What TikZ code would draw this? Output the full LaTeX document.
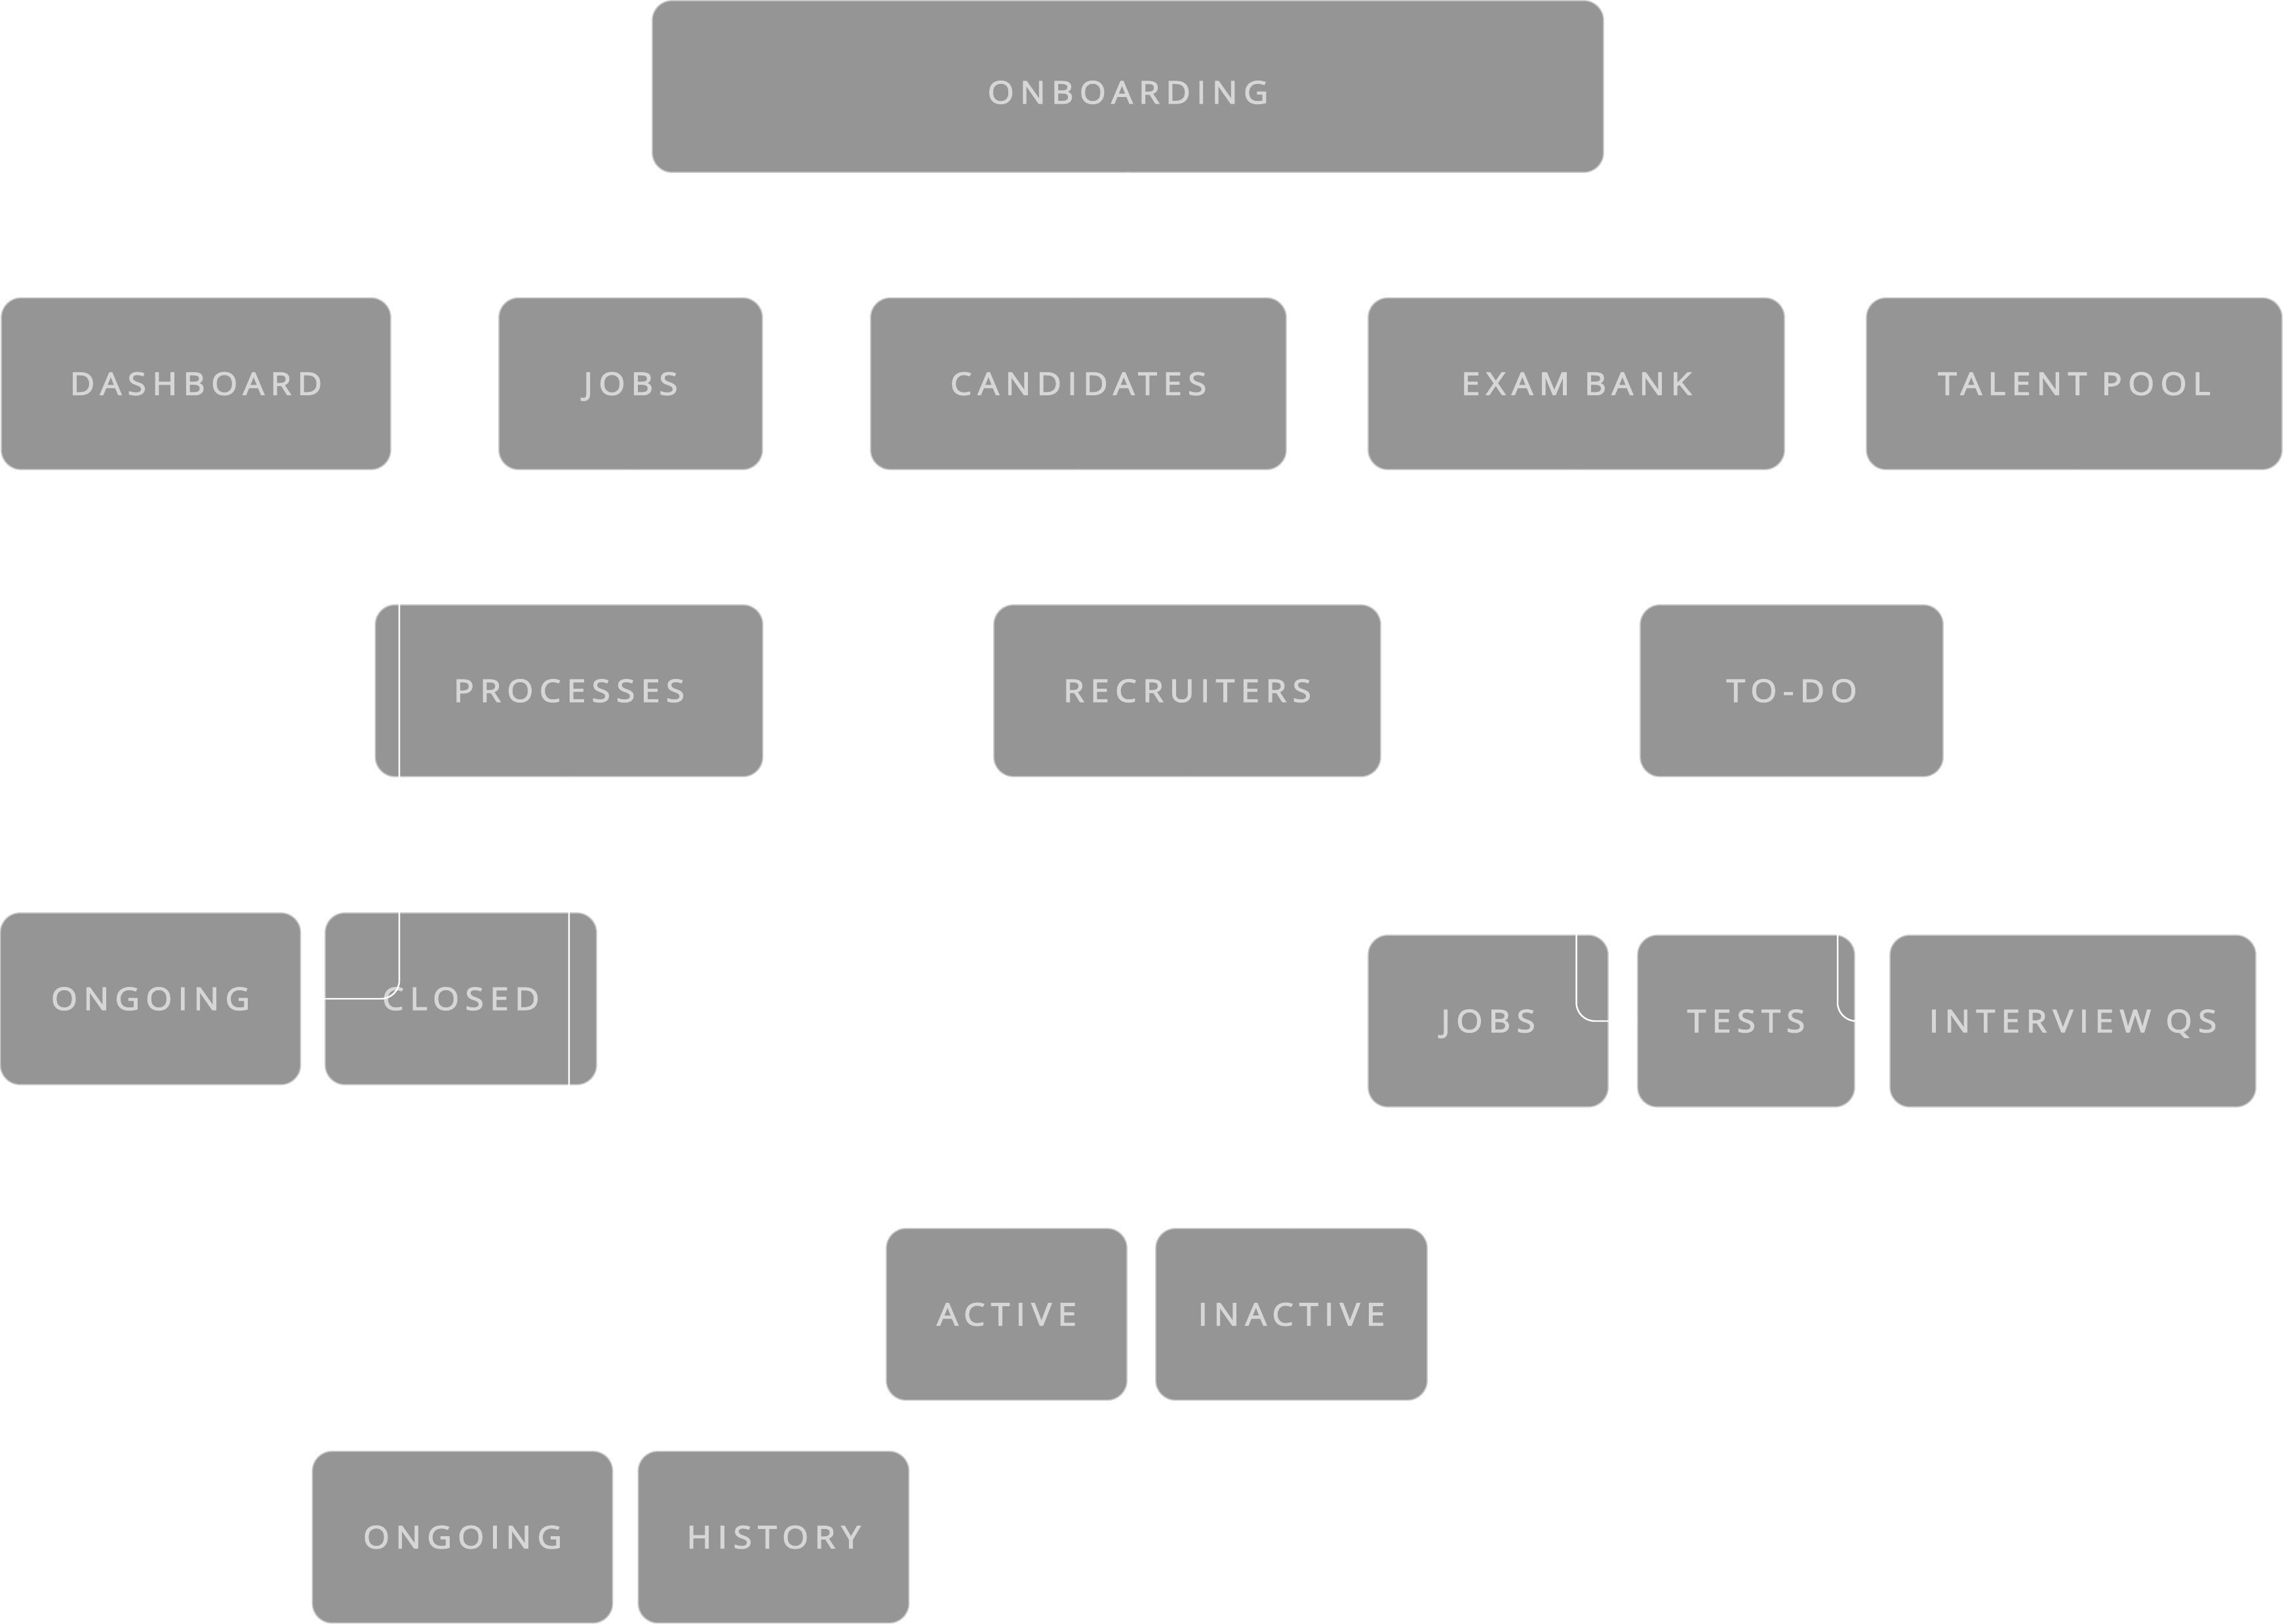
\documentclass[tikz,border=0pt]{standalone}
\usepackage{fontspec}
\usepackage{tikz}
\usepackage{xcolor}

\newfontfamily\boxfont[LetterSpace=20, FakeBold=3, FakeStretch=1.08]{Open Sans}

\definecolor{boxfill}{HTML}{959595}
\definecolor{boxline}{HTML}{C8C8C8}
\definecolor{boxtext}{HTML}{D6D6D6}

\begin{document}
\begin{tikzpicture}[scale=1.0]

%-------------------------------------------------
% Styles
%-------------------------------------------------
\tikzset{
  menubox/.style={draw=boxline, fill=boxfill, line width=0.5pt,
    rounded corners=0.3cm, inner sep=0pt, minimum height=2.62cm,
    text=boxtext, font={\boxfont\fontsize{13.5pt}{16pt}\selectfont},
    text height=0.34cm, text depth=0pt},
  link/.style={draw=white, line width=0.7pt, rounded corners=8pt}
}

% page size
\useasboundingbox (0,0) rectangle (34.84,-24.78);

%-------------------------------------------------
% Root
%-------------------------------------------------
\node[menubox, minimum width=14.51cm, text height=0.52cm] (onb) at (17.205,-1.32) {ONBOARDING};

%-------------------------------------------------
% First level
%-------------------------------------------------
\node[menubox, minimum width=5.94cm] (dash)   at (2.99,-5.855)   {DASHBOARD};
\node[menubox, minimum width=4.02cm] (jobs)   at (9.62,-5.855)   {JOBS};
\node[menubox, minimum width=6.34cm] (cand)   at (16.45,-5.855)  {CANDIDATES};
\node[menubox, minimum width=6.35cm] (exam)   at (24.045,-5.855) {EXAM BANK};
\node[menubox, minimum width=6.34cm] (talent) at (31.64,-5.855)  {TALENT POOL};

%-------------------------------------------------
% Second level
%-------------------------------------------------
\node[menubox, minimum width=5.91cm] (proc) at (8.68,-10.54)  {PROCESSES};
\node[menubox, minimum width=5.90cm] (recr) at (18.11,-10.54) {RECRUITERS};
\node[menubox, minimum width=4.62cm] (todo) at (27.33,-10.54) {TO-DO};

%-------------------------------------------------
% Third level
%-------------------------------------------------
\node[menubox, minimum width=4.58cm] (ongoing) at (2.295,-15.24) {ONGOING};
\node[menubox, minimum width=4.14cm] (closed)  at (7.03,-15.24)  {CLOSED};

\node[menubox, minimum width=3.66cm] (jobsb) at (22.70,-15.58)  {JOBS};
\node[menubox, minimum width=3.31cm] (tests) at (26.635,-15.58) {TESTS};
\node[menubox, minimum width=5.58cm] (intq)  at (31.62,-15.58)  {INTERVIEW QS};

\node[menubox, minimum width=3.67cm] (active)   at (15.355,-20.055) {ACTIVE};
\node[menubox, minimum width=4.14cm] (inactive) at (19.70,-20.055)  {INACTIVE};

\node[menubox, minimum width=4.58cm] (ongoingb) at (7.055,-23.455) {ONGOING};
\node[menubox, minimum width=4.13cm] (history)  at (11.80,-23.455) {HISTORY};

%-------------------------------------------------
% Connectors (white)
%-------------------------------------------------
\foreach \n in {dash,jobs,cand,exam,talent} {
  \draw[link] (onb.south) -- ++(0,-0.95) -| (\n.north);
}

\draw[link] (jobs.south) -- ++(0,-1.0) -| (proc.north);
\draw[link] (cand.south) -- ++(0,-1.0) -| (recr.north);
\draw[link] (talent.south) -- ++(0,-1.0) -| (todo.north);

% processes branch
\draw[link] (jobs.west) -- ++(-1.51,0) |- (ongoing.east);
\draw[link] (proc.south) -- ++(0,-9.45) -| (ongoingb.north);
\draw[link] (proc.south) -- ++(0,-9.45) -| (history.north);

% recruiters branch
\draw[link] (recr.south) -- ++(0,-4.0) -| (active.north);
\draw[link] (recr.south) -- ++(0,-4.0) -| (inactive.north);

% exam bank branch
\draw[link] (exam.south) -- ++(0,-5.83) -| (jobsb.north);
\draw[link] (exam.south) |- (tests.west);
\draw[link] (todo.south) -- ++(0,-1.0) -- ++(0.70,0) |- (intq.west);

\end{tikzpicture}
\end{document}
